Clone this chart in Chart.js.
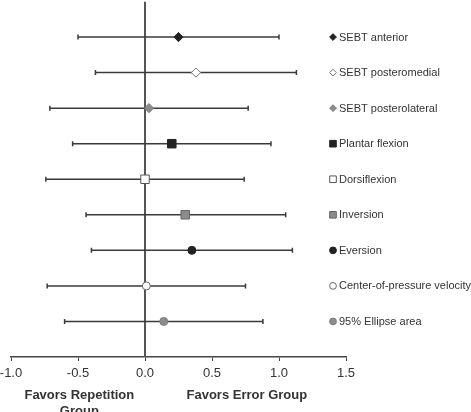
<!DOCTYPE html>
<html>
<head>
<meta charset="utf-8">
<script src="https://cdn.jsdelivr.net/npm/chart.js@4/dist/chart.umd.min.js"></script>
<style>
  html, body { margin: 0; padding: 0; background: #fff; }
  #wrap { width: 471px; height: 412px; }
</style>
</head>
<body>
<div id="wrap"><canvas id="forest" width="471" height="412"></canvas></div>
<script>
(function () {
    "use strict";

    // outcome rows, top to bottom
    const outcomes = ['SEBT anterior', 'SEBT posteromedial', 'SEBT posterolateral', 'Plantar flexion',
        'Dorsiflexion', 'Inversion', 'Eversion', 'Center-of-pressure velocity', '95% Ellipse area'];
    const effectSizes = [0.25, 0.38, 0.03, 0.20, 0.00, 0.30, 0.35, 0.01, 0.14];
    const lowerCI = [-0.50, -0.37, -0.71, -0.54, -0.74, -0.44, -0.40, -0.73, -0.60];
    const upperCI = [1.00, 1.13, 0.77, 0.94, 0.74, 1.05, 1.10, 0.75, 0.88];
    const xTicks = [-1.0, -0.5, 0.0, 0.5, 1.0, 1.5];

    // marker look per row
    const shapes = ['rectRot', 'rectRot', 'rectRot', 'rect', 'rect', 'rect', 'circle', 'circle', 'circle'];
    const fills = ['#222', '#fff', '#8c8c8c', '#222', '#fff', '#8c8c8c', '#222', '#fff', '#8c8c8c'];
    const borders = ['#222', '#777', '#7a7a7a', '#222', '#555', '#666', '#222', '#666', '#7a7a7a'];
    const radii = { rectRot: 4.6, rect: 6, circle: 4 };

    const FONT = '"Liberation Sans", Arial, sans-serif';
    const rows = outcomes.map((_, i) => i + 1);

    let datasets = [];

    // point estimates
    outcomes.forEach(function (name, i) {
        datasets.push({
            label: name,
            data: [{ x: effectSizes[i], y: rows[i] }],
            pointStyle: shapes[i],
            pointRadius: radii[shapes[i]],
            pointBackgroundColor: fills[i],
            pointBorderColor: borders[i],
            pointBorderWidth: 1,
            showLine: false,
            order: 0
        });
    });

    // confidence intervals with end caps
    outcomes.forEach(function (name, i) {
        datasets.push({
            label: name + ' CI',
            data: [{ x: lowerCI[i], y: rows[i] }, { x: upperCI[i], y: rows[i] }],
            showLine: true,
            borderColor: '#3a3a3a',
            borderWidth: 1.5,
            pointStyle: 'line',
            pointRotation: 90,
            pointRadius: 2.5,
            pointBorderColor: '#3a3a3a',
            pointBorderWidth: 1.5,
            order: 1
        });
    });

    // line of no effect
    datasets.push({
        label: 'zero',
        data: [{ x: 0, y: 0 }, { x: 0, y: rows.length + 1 }],
        showLine: true,
        borderColor: '#555',
        borderWidth: 2,
        pointRadius: 0,
        order: 2
    });

    function drawIcon(ctx, shape, x, y, fill, stroke) {
        ctx.save();
        ctx.fillStyle = fill;
        ctx.strokeStyle = stroke;
        ctx.lineWidth = 1;
        ctx.beginPath();
        if (shape === 'rectRot') {
            ctx.moveTo(x, y - 3.4);
            ctx.lineTo(x + 3.4, y);
            ctx.lineTo(x, y + 3.4);
            ctx.lineTo(x - 3.4, y);
            ctx.closePath();
        } else if (shape === 'rect') {
            ctx.rect(x - 3.3, y - 3.3, 6.6, 6.6);
        } else {
            ctx.arc(x, y, 3.4, 0, Math.PI * 2);
        }
        ctx.fill();
        ctx.stroke();
        ctx.restore();
    }

    const rowLabels = {
        id: 'rowLabels',
        afterDraw: function (chart) {
            const ctx = chart.ctx;
            const yScale = chart.scales.y;
            const xScale = chart.scales.x;
            const iconX = chart.chartArea.right - 13;
            ctx.save();
            ctx.font = '11px ' + FONT;
            ctx.fillStyle = '#333';
            ctx.textBaseline = 'middle';
            ctx.textAlign = 'left';
            outcomes.forEach(function (name, i) {
                const y = yScale.getPixelForValue(rows[i]);
                drawIcon(ctx, shapes[i], iconX, y, fills[i], borders[i]);
                ctx.fillText(name, iconX + 6, y + 0.5);
            });

            // group titles under the axis
            ctx.font = 'bold 13px ' + FONT;
            ctx.textAlign = 'center';
            ctx.textBaseline = 'middle';
            const top = chart.chartArea.bottom + 38;
            ctx.fillText('Favors Repetition', xScale.getPixelForValue(-0.49), top);
            ctx.fillText('Group', xScale.getPixelForValue(-0.49), top + 16);
            ctx.fillText('Favors Error Group', xScale.getPixelForValue(0.76), top);
            ctx.restore();
        }
    };

    let ctx = document.getElementById('forest').getContext('2d');
    let chart = new Chart(ctx, {
        type: 'scatter',
        data: { datasets: datasets },
        options: {
            responsive: false,
            animation: false,
            layout: { autoPadding: false, padding: { top: 1.5, right: 125, left: 11, bottom: 0 } },
            plugins: {
                legend: { display: false },
                tooltip: { enabled: false }
            },
            scales: {
                x: {
                    type: 'linear',
                    min: xTicks[0],
                    max: xTicks[xTicks.length - 1],
                    afterBuildTicks: function (scale) {
                        scale.ticks = xTicks.map(v => ({ value: v }));
                    },
                    afterFit: function (scale) {
                        scale.height = 55;
                        scale.paddingLeft = 0;
                        scale.paddingRight = 0;
                    },
                    ticks: {
                        color: '#333',
                        font: { family: FONT, size: 13 },
                        padding: 5,
                        maxRotation: 0,
                        callback: v => v.toFixed(1)
                    },
                    grid: {
                        drawOnChartArea: false,
                        drawTicks: true,
                        tickLength: 4,
                        color: '#444'
                    },
                    border: { display: true, color: '#444', width: 1.5 }
                },
                y: {
                    type: 'linear',
                    display: false,
                    reverse: true,
                    min: 0,
                    max: rows.length + 1
                }
            }
        },
        plugins: [rowLabels]
    });
})();
</script>
</body>
</html>
